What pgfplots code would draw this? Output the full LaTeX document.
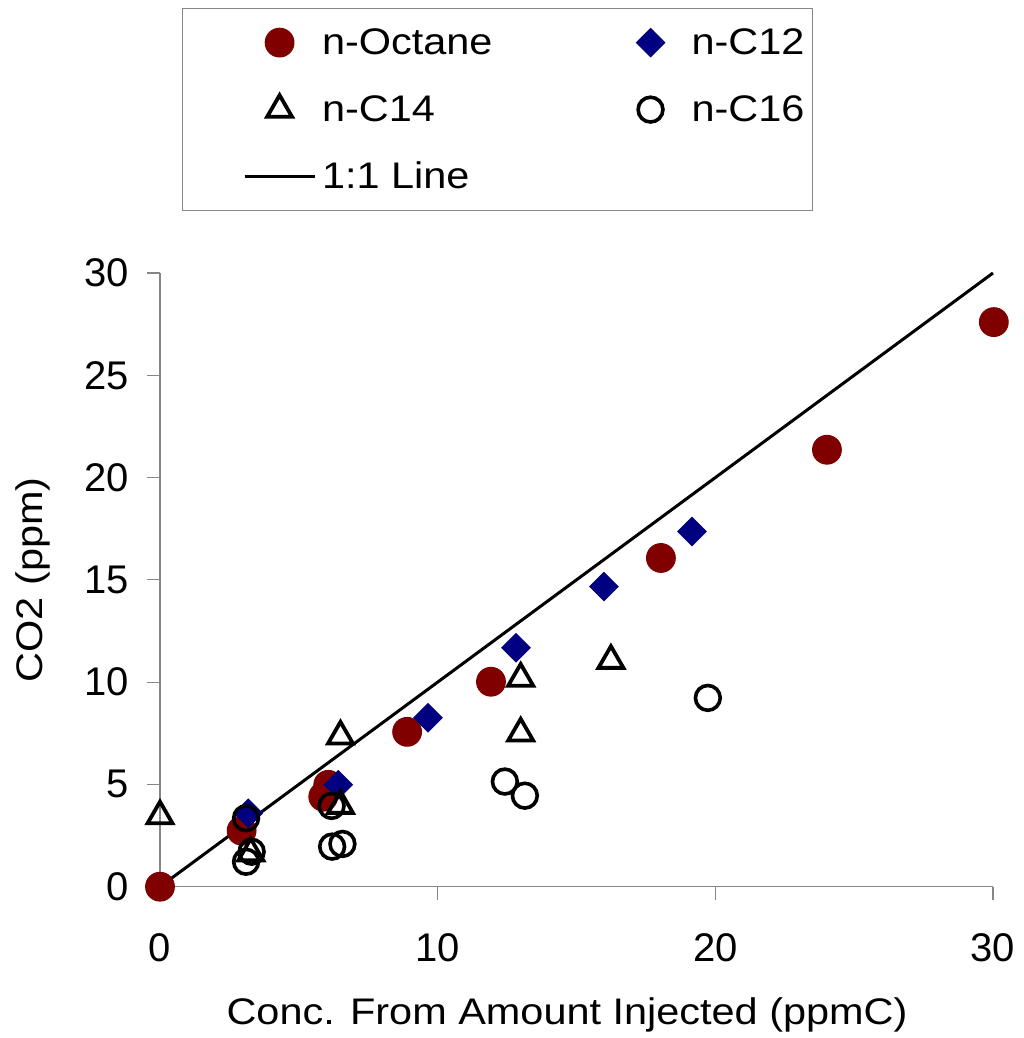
\documentclass[border=0pt]{standalone}
\usepackage{pgfplots}
\pgfplotsset{compat=1.18}
\usepackage{fontspec}
\setmainfont{Liberation Sans}
\newfontfamily\stretched{Liberation Sans}[FakeStretch=1.12]
\definecolor{octane}{RGB}{128,0,0}
\definecolor{cTwelve}{RGB}{0,0,128}
\definecolor{axgray}{RGB}{134,134,134}
\begin{document}
\begin{tikzpicture}
\begin{axis}[
  name=ax,
  scale only axis,
  width=416.5pt, height=306.85pt,
  xmin=0, xmax=30, ymin=0, ymax=30,
  axis x line*=bottom, axis y line*=left,
  axis line style={axgray, line width=0.6pt},
  xtick={0,10,20,30}, ytick={0,5,10,15,20,25,30},
  tick align=outside,
  major tick length=6.5pt,
  tick style={axgray, line width=0.6pt},
  ticklabel style={font=\fontsize{20}{24}\selectfont},
  xticklabel style={yshift=-13.5pt},
  yticklabel style={xshift=-5.5pt},
  /pgf/number format/assume math mode=true,
  clip=false,
  xlabel={Conc. From Amount Injected (ppmC)},
  ylabel={CO2 (ppm)},
  label style={font=\stretched\fontsize{18.5}{22}\selectfont},
  xlabel style={at={(axis description cs:0.4886,-0.209)}, anchor=center},
  ylabel style={at={(axis description cs:-0.1525,0.5)}, anchor=center},
  legend columns=2,
  legend cell align=left,
  legend image code/.code={\path[draw=none,fill=none] (-30pt,0pt) -- (35pt,0pt); \draw[#1] plot coordinates {(17.5pt,0pt)};},
  lineleg/.style={legend image code/.code={\path[draw=none,fill=none] (-30pt,0pt) -- (35pt,0pt); \draw[##1] (0pt,0pt) -- (35pt,0pt);}},
  legend style={
    at={(0.0264,1.4318)}, anchor=north west,
    draw=axgray, line width=0.6pt,
    inner xsep=1pt, inner ysep=1.5pt,
    /tikz/every even column/.append style={column sep=28.5pt},
    row sep=2.5pt,
    nodes={inner xsep=3pt, inner ysep=0pt, minimum height=31pt, font=\stretched\fontsize{18.5}{22}\selectfont},
    cells={anchor=west},
  },
]
\addplot[black, line width=1.5pt, forget plot] coordinates {(0,0) (30,30)};

\addplot[only marks, mark=*, mark size=7.2pt, line width=0.5pt, mark options={fill=octane, draw=octane}, color=octane] coordinates {
(0,0) (2.94,2.74) (6.06,4.98) (5.88,4.40) (8.90,7.57) (11.92,10.02) (18.04,16.07) (24.02,21.36) (30.03,27.60)};
\addlegendentry{n-Octane}

\addplot[only marks, mark=square*, mark size=5pt, line width=0.5pt, mark options={rotate=45, fill=cTwelve, draw=cTwelve}, color=cTwelve] coordinates {
(3.18,3.59) (6.42,4.98) (9.65,8.26) (12.82,11.68) (15.99,14.67) (19.16,17.36)};
\addlegendentry{n-C12}

\addplot[only marks, mark=triangle, mark size=7.2pt, mark options={black, line width=1.9pt}, color=black] coordinates {
(0,3.45) (3.27,1.64) (6.50,7.35) (6.50,3.96) (12.99,10.18) (12.99,7.50) (16.24,11.05)};
\addlegendentry{n-C14}

\addplot[only marks, mark=o, mark size=6.2pt, mark options={black, line width=1.8pt}, color=black] coordinates {
(3.10,3.35) (3.10,1.22) (3.30,1.71) (6.18,3.95) (6.20,1.96) (6.57,2.09) (12.42,5.14) (13.14,4.45) (19.73,9.23)};
\addlegendentry{n-C16}

\addlegendimage{lineleg, black, line width=1.5pt}
\addlegendentry{1:1 Line}
\end{axis}
\pgfresetboundingbox
\path[use as bounding box] ([shift={(-80pt,-75.65pt)}]ax.south west) rectangle ([shift={(15pt,136.5pt)}]ax.north east);
\end{tikzpicture}
\end{document}
